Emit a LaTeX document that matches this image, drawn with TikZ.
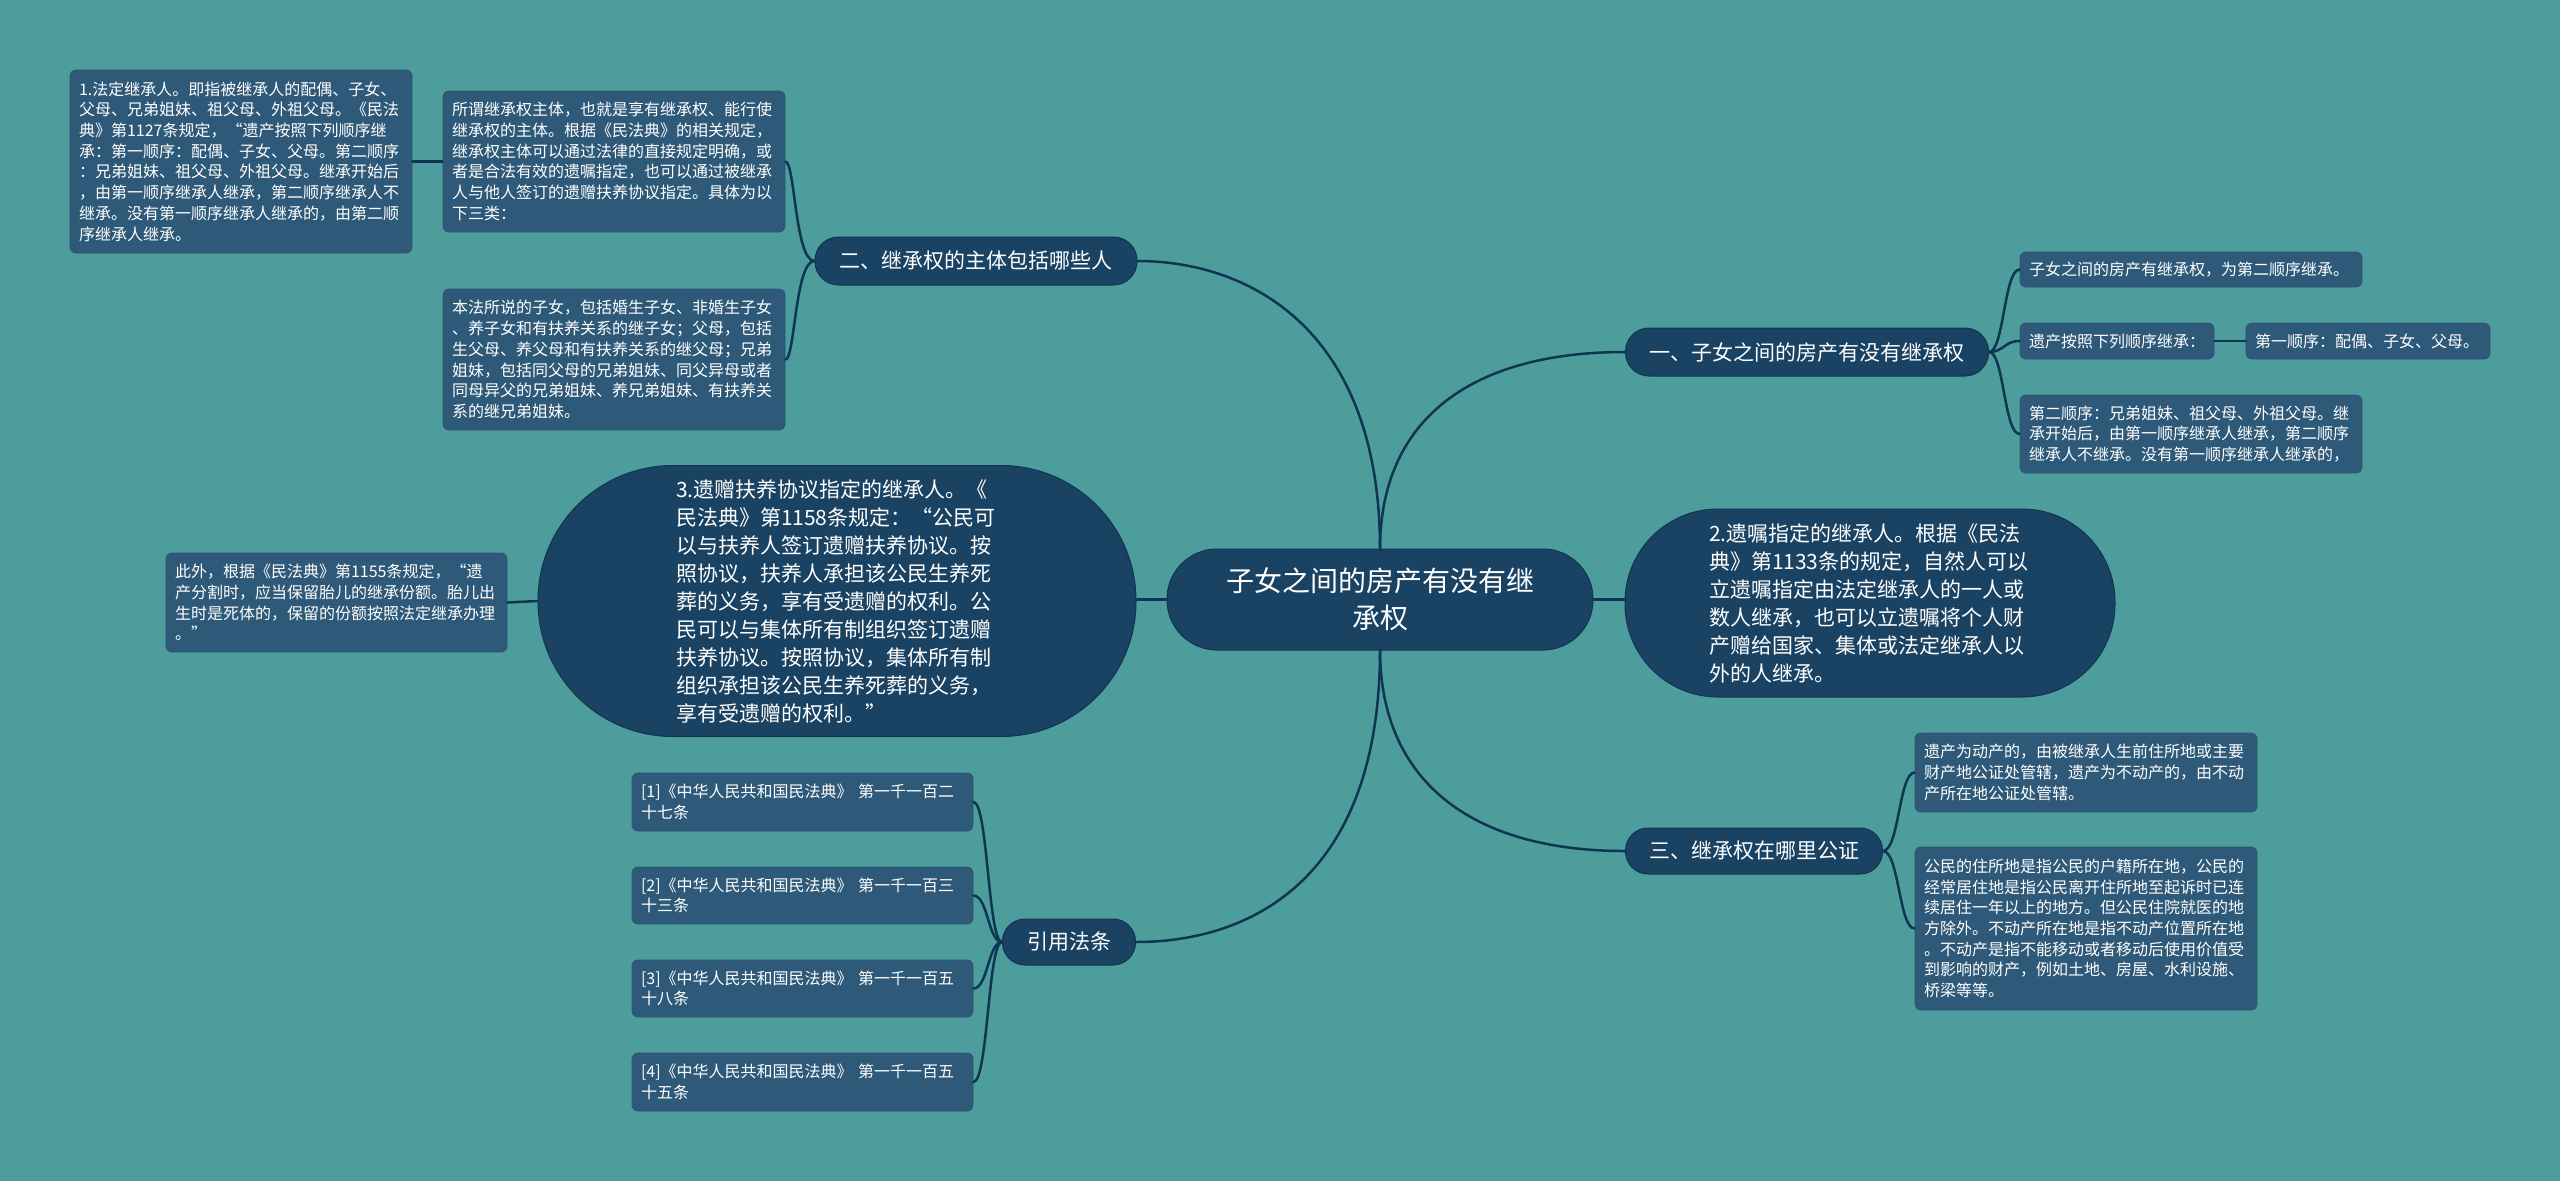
\documentclass[tikz,border=0pt]{standalone}
\usepackage{fontspec}
\newfontfamily\cjk{Noto Sans CJK SC}
\definecolor{bg}{HTML}{4E9D9D}
\definecolor{mainc}{HTML}{1A4262}
\definecolor{leafc}{HTML}{2E5978}
\definecolor{leafd}{HTML}{2A5473}
\definecolor{linec}{HTML}{0F3552}
\tikzset{
  leaf/.style={fill=leafc, draw=leafd, line width=0.8pt, rounded corners=6pt, text=white,
    font=\cjk\fontsize{16}{20.7}\selectfont, align=left, inner xsep=9pt, inner ysep=0pt, anchor=center},
  topic/.style={fill=mainc, draw=linec, line width=1pt, text=white, align=center,
    font=\cjk\fontsize{21}{28}\selectfont, inner sep=0pt, anchor=center},
  bigpill/.style={fill=mainc, draw=linec, line width=1pt, text=white, align=left,
    font=\cjk\fontsize{21}{28}\selectfont, inner sep=0pt, anchor=center},
  conn/.style={draw=linec, line width=2.5pt, line cap=round}
}
\begin{document}
\begin{tikzpicture}[x=1pt,y=-1pt]
\useasboundingbox (0,0) rectangle (2560,1181);
\fill[bg] (0,0) rectangle (2560,1181);

% central topic
\node[topic, minimum width=426pt, minimum height=101pt, rounded corners=50pt, text width=330pt,
  font=\cjk\fontsize{28}{37}\selectfont] (C) at (1380,599.5) {子女之间的房产有没有继\\承权};
\coordinate (ctop) at (1380,549.5);
\coordinate (cbot) at (1380,649.5);

% level-1 topics
\node[topic, minimum width=322pt, minimum height=48pt, rounded corners=23.5pt] (T2) at (976,261) {二、继承权的主体包括哪些人};
\node[topic, minimum width=363pt, minimum height=48pt, rounded corners=23.5pt] (T1) at (1807,352) {一、子女之间的房产有没有继承权};
\node[topic, minimum width=257pt, minimum height=46pt, rounded corners=22.5pt] (T3) at (1754,851) {三、继承权在哪里公证};
\node[topic, minimum width=133pt, minimum height=46pt, rounded corners=22.5pt] (T4) at (1069,942) {引用法条};

\node[bigpill, minimum width=598pt, minimum height=271pt, rounded corners=135pt, text width=322pt] (P3) at (837,601) {3.遗赠扶养协议指定的继承人。《\\民法典》第1158条规定：“公民可\\以与扶养人签订遗赠扶养协议。按\\照协议，扶养人承担该公民生养死\\葬的义务，享有受遗赠的权利。公\\民可以与集体所有制组织签订遗赠\\扶养协议。按照协议，集体所有制\\组织承担该公民生养死葬的义务，\\享有受遗赠的权利。”};
\node[bigpill, minimum width=490pt, minimum height=188pt, rounded corners=93pt, text width=322pt] (P2) at (1870,603) {2.遗嘱指定的继承人。根据《民法\\典》第1133条的规定，自然人可以\\立遗嘱指定由法定继承人的一人或\\数人继承，也可以立遗嘱将个人财\\产赠给国家、集体或法定继承人以\\外的人继承。};

% leaves left
\node[leaf, minimum width=342pt, minimum height=183pt, text width=324pt] (A1) at (241,161.5) {1.法定继承人。即指被继承人的配偶、子女、\\父母、兄弟姐妹、祖父母、外祖父母。《民法\\典》第1127条规定，“遗产按照下列顺序继\\承：第一顺序：配偶、子女、父母。第二顺序\\：兄弟姐妹、祖父母、外祖父母。继承开始后\\，由第一顺序继承人继承，第二顺序继承人不\\继承。没有第一顺序继承人继承的，由第二顺\\序继承人继承。};
\node[leaf, minimum width=342pt, minimum height=141pt, text width=324pt] (A2) at (614,161.5) {所谓继承权主体，也就是享有继承权、能行使\\继承权的主体。根据《民法典》的相关规定，\\继承权主体可以通过法律的直接规定明确，或\\者是合法有效的遗嘱指定，也可以通过被继承\\人与他人签订的遗赠扶养协议指定。具体为以\\下三类：};
\node[leaf, minimum width=342pt, minimum height=141pt, text width=324pt] (A3) at (614,359.5) {本法所说的子女，包括婚生子女、非婚生子女\\、养子女和有扶养关系的继子女；父母，包括\\生父母、养父母和有扶养关系的继父母；兄弟\\姐妹，包括同父母的兄弟姐妹、同父异母或者\\同母异父的兄弟姐妹、养兄弟姐妹、有扶养关\\系的继兄弟姐妹。};
\node[leaf, minimum width=341pt, minimum height=99pt, text width=323pt] (C1) at (336.5,602.5) {此外，根据《民法典》第1155条规定，“遗\\产分割时，应当保留胎儿的继承份额。胎儿出\\生时是死体的，保留的份额按照法定继承办理\\。”};

\node[leaf, minimum width=341pt, minimum height=58pt, text width=323pt] (R1) at (802.5,802) {[1]《中华人民共和国民法典》 第一千一百二\\十七条};
\node[leaf, minimum width=341pt, minimum height=57pt, text width=323pt] (R2) at (802.5,895.5) {[2]《中华人民共和国民法典》 第一千一百三\\十三条};
\node[leaf, minimum width=341pt, minimum height=57pt, text width=323pt] (R3) at (802.5,988.5) {[3]《中华人民共和国民法典》 第一千一百五\\十八条};
\node[leaf, minimum width=341pt, minimum height=58pt, text width=323pt] (R4) at (802.5,1082) {[4]《中华人民共和国民法典》 第一千一百五\\十五条};

% leaves right
\node[leaf, minimum width=342pt, minimum height=35pt, text width=324pt] (B1) at (2191,269.5) {子女之间的房产有继承权，为第二顺序继承。};
\node[leaf, minimum width=194pt, minimum height=36pt, text width=176pt] (B2) at (2117,341) {遗产按照下列顺序继承：};
\node[leaf, minimum width=244pt, minimum height=36pt, text width=226pt] (B3) at (2368,341) {第一顺序：配偶、子女、父母。};
\node[leaf, minimum width=342pt, minimum height=78pt, text width=324pt] (B4) at (2191,434) {第二顺序：兄弟姐妹、祖父母、外祖父母。继\\承开始后，由第一顺序继承人继承，第二顺序\\继承人不继承。没有第一顺序继承人继承的，};

\node[leaf, minimum width=342pt, minimum height=79pt, text width=324pt] (D1) at (2086,772.5) {遗产为动产的，由被继承人生前住所地或主要\\财产地公证处管辖，遗产为不动产的，由不动\\产所在地公证处管辖。};
\node[leaf, minimum width=342pt, minimum height=163pt, text width=324pt] (D2) at (2086,928.5) {公民的住所地是指公民的户籍所在地，公民的\\经常居住地是指公民离开住所地至起诉时已连\\续居住一年以上的地方。但公民住院就医的地\\方除外。不动产所在地是指不动产位置所在地\\。不动产是指不能移动或者移动后使用价值受\\到影响的财产，例如土地、房屋、水利设施、\\桥梁等等。};

% connectors from centre
\begin{scope}[on background layer/.style={}]
\end{scope}
\draw[conn] (ctop) .. controls (1380,330) and (1250,261) .. (T2.east);
\draw[conn] (ctop) .. controls (1380,420) and (1470,352) .. (T1.west);
\draw[conn] (cbot) .. controls (1380,780) and (1470,851) .. (T3.west);
\draw[conn] (cbot) .. controls (1380,880) and (1250,942) .. (T4.east);
\draw[conn] (C.west) -- (P3.east |- C.west);
\draw[conn] (C.east) -- (P2.west |- C.east);

% sub connectors
\draw[conn] (T2.west) .. controls (795,261) and (795,161.5) .. (A2.east);
\draw[conn] (T2.west) .. controls (795,261) and (795,359.5) .. (A3.east);
\draw[conn] (A2.west) -- (A1.east);
\draw[conn] (P3.west) -- (C1.east);

\draw[conn] (T1.east) .. controls (2004,352) and (2004,269.5) .. (B1.west);
\draw[conn] (T1.east) .. controls (2004,352) and (2004,341) .. (B2.west);
\draw[conn] (T1.east) .. controls (2004,352) and (2004,434) .. (B4.west);
\draw[conn] (B2.east) -- (B3.west);

\draw[conn] (T3.east) .. controls (1899,851) and (1899,772.5) .. (D1.west);
\draw[conn] (T3.east) .. controls (1899,851) and (1899,928.5) .. (D2.west);

\draw[conn] (T4.west) .. controls (988,942) and (988,802) .. (R1.east);
\draw[conn] (T4.west) .. controls (988,942) and (988,895.5) .. (R2.east);
\draw[conn] (T4.west) .. controls (988,942) and (988,988.5) .. (R3.east);
\draw[conn] (T4.west) .. controls (988,942) and (988,1082) .. (R4.east);
\end{tikzpicture}
\end{document}
